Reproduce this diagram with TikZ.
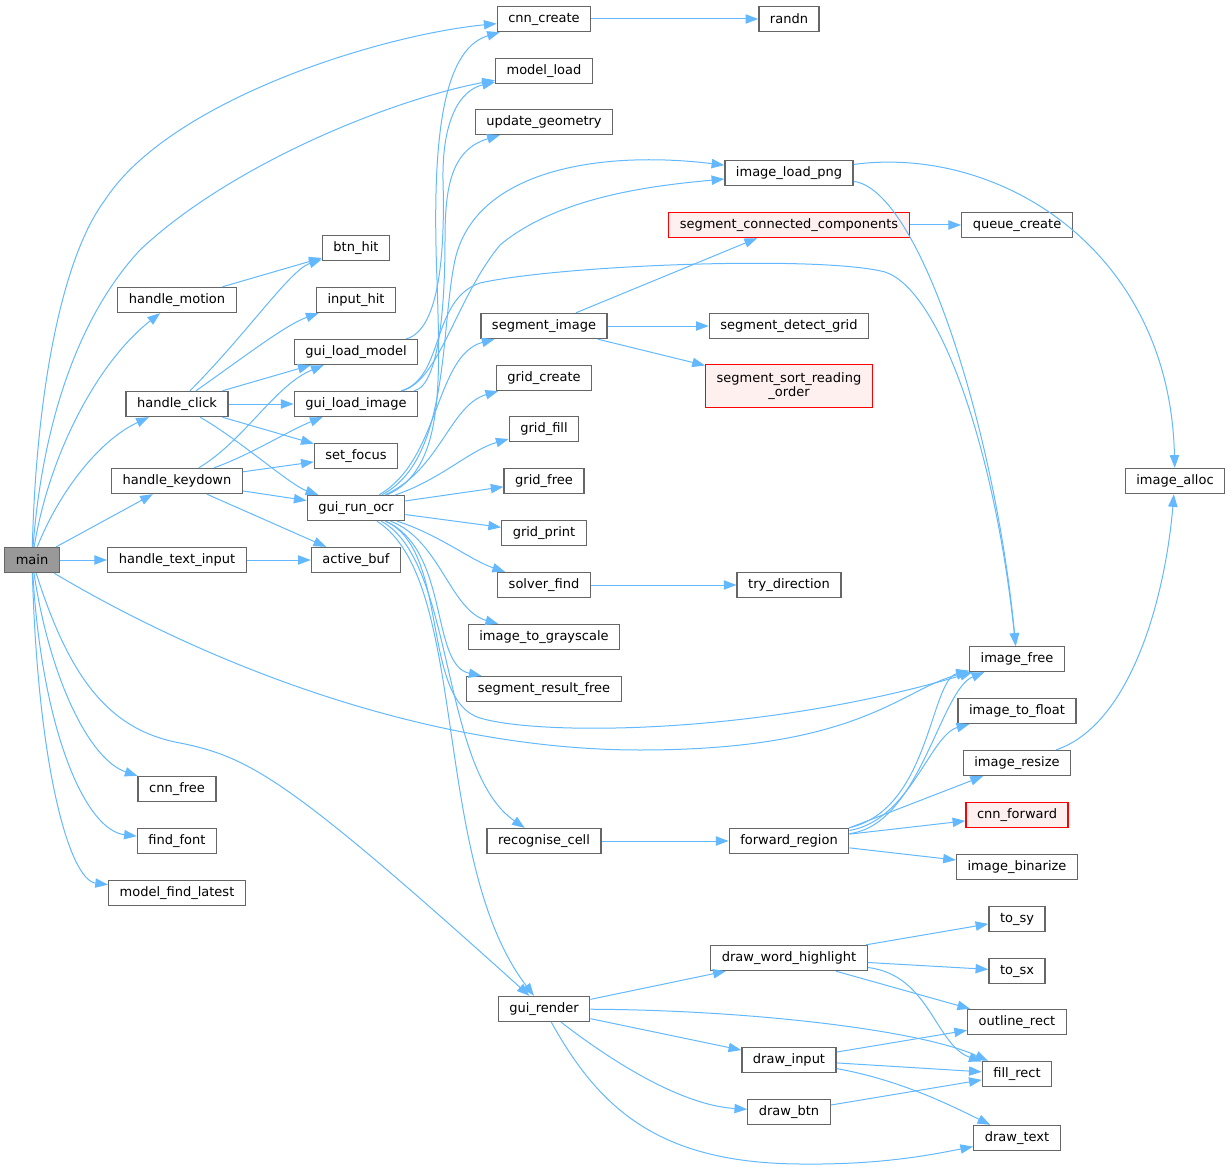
\documentclass[tikz,border=0pt]{standalone}
\usepackage{fontspec}
\setmainfont{DejaVu Sans}
\usetikzlibrary{arrows.meta}
\definecolor{edgeblue}{HTML}{63B8FF}
\definecolor{boxgray}{HTML}{666666}
\definecolor{rootgray}{HTML}{999999}
\definecolor{missfill}{HTML}{FFF0F0}

\begin{document}
\begin{tikzpicture}[x=0.75pt,y=-0.75pt,
    fn/.style={draw=boxgray, line width=1pt, fill=white, inner xsep=8.3pt, inner ysep=0pt,
               minimum height=18.75pt, font=\fontsize{9.75}{11}\selectfont},
    root/.style={fn, fill=rootgray},
    missing/.style={fn, draw=red, fill=missfill},
    call/.style={color=edgeblue, line width=0.75pt, -{Triangle[length=9.5pt,width=7pt]}}]
            \useasboundingbox (0,0) rectangle (1232,1170);

            % callers
            \node[root]  (main)              at (32,560)   {main};
            \node[fn]    (handle_motion)     at (177,300)  {handle\_motion};
            \node[fn]    (handle_click)      at (177,404)  {handle\_click};
            \node[fn]    (handle_keydown)    at (177,481)  {handle\_keydown};
            \node[fn]    (handle_text_input) at (177,560)  {handle\_text\_input};
            \node[fn]    (cnn_free)          at (177,789)  {cnn\_free};
            \node[fn]    (find_font)         at (177,841)  {find\_font};
            \node[fn]    (model_find_latest) at (177,893)  {model\_find\_latest};

            \node[fn]    (btn_hit)        at (356,248) {btn\_hit};
            \node[fn]    (input_hit)      at (356,300) {input\_hit};
            \node[fn]    (gui_load_model) at (356,352) {gui\_load\_model};
            \node[fn]    (gui_load_image) at (356,404) {gui\_load\_image};
            \node[fn]    (set_focus)      at (356,456) {set\_focus};
            \node[fn]    (gui_run_ocr)    at (356,508) {gui\_run\_ocr};
            \node[fn]    (active_buf)     at (356,560) {active\_buf};

            \node[fn]    (cnn_create)          at (544,19)   {cnn\_create};
            \node[fn]    (model_load)          at (544,71)   {model\_load};
            \node[fn]    (update_geometry)     at (544,122)  {update\_geometry};
            \node[fn]    (segment_image)       at (544,326)  {segment\_image};
            \node[fn]    (grid_create)         at (544,378)  {grid\_create};
            \node[fn]    (grid_fill)           at (544,429)  {grid\_fill};
            \node[fn]    (grid_free)           at (544,481)  {grid\_free};
            \node[fn]    (grid_print)          at (544,533)  {grid\_print};
            \node[fn]    (solver_find)         at (544,585)  {solver\_find};
            \node[fn]    (image_to_grayscale)  at (544,637)  {image\_to\_grayscale};
            \node[fn]    (segment_result_free) at (544,689)  {segment\_result\_free};
            \node[fn]    (recognise_cell)      at (544,841)  {recognise\_cell};
            \node[fn]    (gui_render)          at (544,1009) {gui\_render};

            \node[fn]      (randn)          at (789,19)  {randn};
            \node[fn]      (image_load_png) at (789,173) {image\_load\_png};
            \node[missing] (segment_cc)     at (789,225) {segment\_connected\_components};
            \node[fn]      (segment_detect_grid) at (789,326) {segment\_detect\_grid};
            \node[missing, align=center, minimum height=32.5pt]
                           (segment_sort)   at (789,386) {segment\_sort\_reading\\\_order};
            \node[fn]      (try_direction)  at (789,585)  {try\_direction};
            \node[fn]      (forward_region) at (789,841)  {forward\_region};
            \node[fn]      (draw_word_highlight) at (789,958) {draw\_word\_highlight};
            \node[fn]      (draw_input)     at (789,1060) {draw\_input};
            \node[fn]      (draw_btn)       at (789,1112) {draw\_btn};

            \node[fn]      (queue_create)   at (1017,225)  {queue\_create};
            \node[fn]      (image_free)     at (1017,659)  {image\_free};
            \node[fn]      (image_to_float) at (1017,711)  {image\_to\_float};
            \node[fn]      (image_resize)   at (1017,763)  {image\_resize};
            \node[missing] (cnn_forward)    at (1017,815)  {cnn\_forward};
            \node[fn]      (image_binarize) at (1017,867)  {image\_binarize};
            \node[fn]      (to_sy)          at (1017,919)  {to\_sy};
            \node[fn]      (to_sx)          at (1017,971)  {to\_sx};
            \node[fn]      (outline_rect)   at (1017,1022) {outline\_rect};
            \node[fn]      (fill_rect)      at (1017,1074) {fill\_rect};
            \node[fn]      (draw_text)      at (1017,1138) {draw\_text};
            \node[fn]      (image_alloc)    at (1175,481)  {image\_alloc};

            % straight calls
            \path[call]
            (main) edge (handle_keydown)
                   edge (handle_text_input)
            (handle_motion) edge (btn_hit)
            (handle_click) edge (gui_load_model)
                   edge (gui_load_image)
                   edge (set_focus)
            (handle_keydown) edge (set_focus)
                   edge (gui_run_ocr)
                   edge (active_buf)
            (handle_text_input) edge (active_buf)
            (gui_run_ocr) edge (grid_free)
                   edge (grid_print)
            (cnn_create) edge (randn)
            (segment_image) edge (segment_cc)
                   edge (segment_detect_grid)
                   edge (segment_sort)
            (segment_cc) edge (queue_create)
            (solver_find) edge (try_direction)
            (recognise_cell) edge (forward_region)
            (forward_region.north east) edge (image_resize)
            (forward_region) edge (cnn_forward)
                   edge (image_binarize)
            (gui_render) edge (draw_word_highlight)
                   edge (draw_input)
            (draw_word_highlight) edge (to_sy)
                   edge (to_sx)
                   edge (outline_rect)
            (draw_input) edge (outline_rect)
                   edge (fill_rect)
            (draw_btn) edge (fill_rect)
            ;

            % curved calls from main
            \draw[call] (main) .. controls (36,400) and (60,260) .. (105,200)
                .. controls (170,100) and (380,35) .. (cnn_create);
            \draw[call] (main) .. controls (42,430) and (75,320) .. (140,250)
                .. controls (230,165) and (390,100) .. (model_load);
            \draw[call] (main) .. controls (50,450) and (100,360) .. (handle_motion);
            \draw[call] (main) .. controls (60,490) and (100,440) .. (handle_click);
            \draw[call] (main) .. controls (200,660) and (420,750) .. (640,750)
                .. controls (860,750) and (900,690) .. (image_free);
            \draw[call] (main) .. controls (50,680) and (90,760) .. (cnn_free);
            \draw[call] (main) .. controls (42,730) and (85,830) .. (find_font);
            \draw[call] (main) .. controls (38,770) and (70,880) .. (model_find_latest);
            \draw[call] (main) .. controls (70,680) and (110,730) .. (180,743)
                .. controls (250,757) and (290,780) .. (gui_render);

            % handlers
            \draw[call] (handle_click) .. controls (250,330) and (290,270) .. (btn_hit);
            \draw[call] (handle_click) .. controls (240,360) and (285,325) .. (input_hit);
            \draw[call] (handle_click) .. controls (240,440) and (290,485) .. (gui_run_ocr);
            \draw[call] (handle_keydown) .. controls (245,440) and (275,385) .. (gui_load_model);
            \draw[call] (handle_keydown) .. controls (250,455) and (290,430) .. (gui_load_image);

            % loaders
            \draw[call] (gui_load_model) .. controls (440,330) and (445,250) .. (443,180)
                .. controls (442,120) and (460,90) .. (model_load);
            \draw[call] (gui_load_image) .. controls (440,385) and (445,300) .. (445,240)
                .. controls (445,190) and (450,150) .. (update_geometry);
            \draw[call] (gui_load_image) .. controls (440,380) and (455,300) .. (500,245)
                .. controls (560,195) and (660,185) .. (image_load_png);
            \draw[call] (gui_load_image) .. controls (445,378) and (430,300) .. (480,283)
                .. controls (560,265) and (820,255) .. (885,272)
                .. controls (940,290) and (995,450) .. (image_free);

            % gui_run_ocr
            \draw[call] (gui_run_ocr) .. controls (445,470) and (440,380) .. (437,280)
                .. controls (432,150) and (440,50) .. (cnn_create);
            \draw[call] (gui_run_ocr) .. controls (450,460) and (440,330) .. (455,260)
                .. controls (475,170) and (600,150) .. (image_load_png);
            \draw[call] (gui_run_ocr) .. controls (440,460) and (435,355) .. (segment_image);
            \draw[call] (gui_run_ocr) .. controls (440,470) and (450,405) .. (grid_create);
            \draw[call] (gui_run_ocr) .. controls (440,480) and (470,450) .. (grid_fill);
            \draw[call] (gui_run_ocr) .. controls (440,535) and (470,560) .. (solver_find);
            \draw[call] (gui_run_ocr) .. controls (440,540) and (450,610) .. (image_to_grayscale);
            \draw[call] (gui_run_ocr) .. controls (450,550) and (430,665) .. (segment_result_free);
            \draw[call] (gui_run_ocr) .. controls (455,560) and (440,770) .. (recognise_cell);
            \draw[call] (gui_run_ocr) .. controls (470,580) and (430,860) .. (gui_render);
            \draw[call] (gui_run_ocr) .. controls (450,550) and (420,700) .. (480,718)
                .. controls (540,736) and (760,735) .. (image_free);

            % image helpers
            \draw[call] (image_load_png) .. controls (1000,145) and (1170,250) .. (image_alloc);
            \draw[call] (image_load_png) .. controls (920,190) and (995,430) .. (image_free);
            \draw[call] (forward_region) .. controls (930,810) and (930,680) .. (image_free);
            \draw[call] (forward_region) .. controls (920,825) and (940,690) .. (image_free);
            \draw[call] (forward_region) .. controls (910,820) and (930,735) .. (image_to_float);
            \draw[call] (image_resize) .. controls (1130,725) and (1165,600) .. (image_alloc);

            % rendering
            \draw[call] (gui_render) .. controls (750,1010) and (920,1030) .. (fill_rect);
            \draw[call] (gui_render) .. controls (610,1060) and (680,1105) .. (draw_btn);
            \draw[call] (gui_render) .. controls (600,1110) and (660,1163) .. (800,1164)
                .. controls (880,1165) and (930,1155) .. (draw_text);
            \draw[call] (draw_word_highlight) .. controls (930,975) and (935,1045) .. (fill_rect);
            \draw[call] (draw_input) .. controls (900,1080) and (950,1105) .. (draw_text);
    \end{tikzpicture}
\end{document}
